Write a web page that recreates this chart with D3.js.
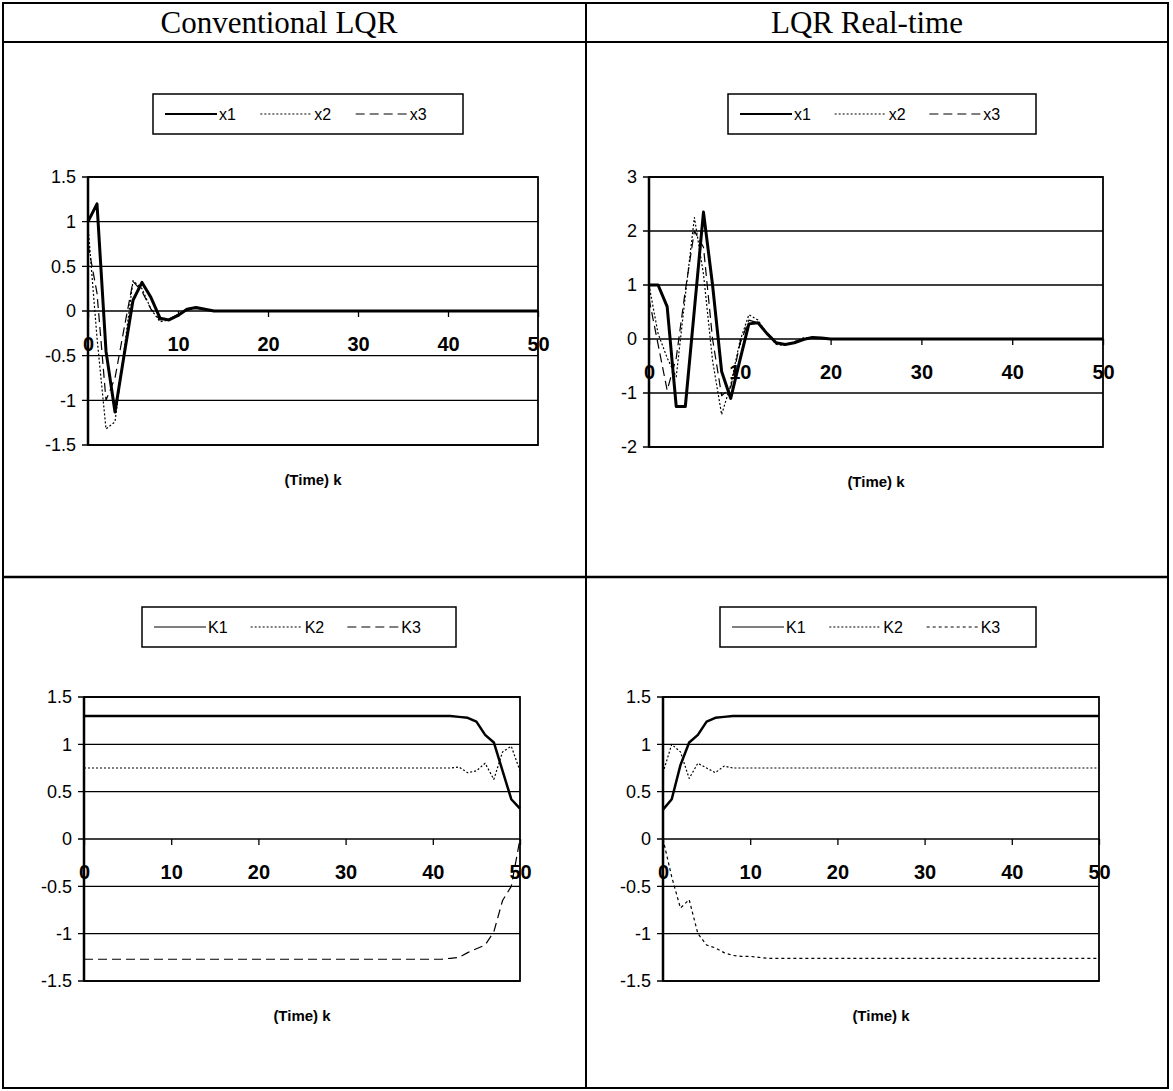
<!DOCTYPE html>
<html>
<head>
<meta charset="utf-8">
<script src="https://cdn.jsdelivr.net/npm/d3@7"></script>
<style>
  body { margin: 0; background: #fff; }
  text { font-family: "Liberation Sans", Arial, sans-serif; fill: #000; }
</style>
</head>
<body>
<svg id="page" width="1173" height="1091"></svg>
<script>
// time index k
var steps = [0,1,2,3,4,5,6,7,8,9,10,11,12,13,14,15,16,17,18,19,20,21,22,23,24,25,26,27,28,29,30,
             31,32,33,34,35,36,37,38,39,40,41,42,43,44,45,46,47,48,49,50];
var xTicks = [0, 10, 20, 30, 40, 50];

// Conventional LQR - states
var convX1 = [1.0,1.2,-0.45,-1.13,-0.5,0.12,0.32,0.15,-0.08,-0.1,-0.05,0.02,0.04,0.02,0,0,0,0,0,0,0,0,0,0,0,0,0,0,0,0,0,0,0,0,0,0,0,0,0,0,0,0,0,0,0,0,0,0,0,0,0];
var convX2 = [0.95,-0.3,-1.32,-1.24,-0.45,0.34,0.25,0.02,-0.12,-0.1,-0.04,0.01,0.03,0.02,0,0,0,0,0,0,0,0,0,0,0,0,0,0,0,0,0,0,0,0,0,0,0,0,0,0,0,0,0,0,0,0,0,0,0,0,0];
var convX3 = [0.75,0.2,-1.0,-0.75,-0.2,0.33,0.22,0.02,-0.1,-0.09,-0.04,0.01,0.03,0.02,0,0,0,0,0,0,0,0,0,0,0,0,0,0,0,0,0,0,0,0,0,0,0,0,0,0,0,0,0,0,0,0,0,0,0,0,0];

// LQR real-time - states
var rtX1 = [1.0,1.0,0.6,-1.25,-1.25,0.55,2.35,1.0,-0.6,-1.1,-0.4,0.28,0.3,0.1,-0.07,-0.1,-0.07,-0.01,0.03,0.02,0,0,0,0,0,0,0,0,0,0,0,0,0,0,0,0,0,0,0,0,0,0,0,0,0,0,0,0,0,0,0];
var rtX2 = [1.0,0.1,-0.35,-0.7,0.8,2.25,1.2,-0.4,-1.4,-0.85,-0.05,0.45,0.35,0.1,-0.1,-0.12,-0.05,0.02,0.03,0.01,0,0,0,0,0,0,0,0,0,0,0,0,0,0,0,0,0,0,0,0,0,0,0,0,0,0,0,0,0,0,0];
var rtX3 = [0.75,-0.1,-0.95,-0.35,0.9,2.0,1.7,0.0,-1.05,-0.9,-0.1,0.35,0.3,0.1,-0.08,-0.1,-0.06,0.01,0.03,0.01,0,0,0,0,0,0,0,0,0,0,0,0,0,0,0,0,0,0,0,0,0,0,0,0,0,0,0,0,0,0,0];

// Conventional LQR - gains
var convK1 = [1.3,1.3,1.3,1.3,1.3,1.3,1.3,1.3,1.3,1.3,1.3,1.3,1.3,1.3,1.3,1.3,1.3,1.3,1.3,1.3,1.3,1.3,1.3,1.3,1.3,1.3,1.3,1.3,1.3,1.3,1.3,1.3,1.3,1.3,1.3,1.3,1.3,1.3,1.3,1.3,1.3,1.3,1.3,1.29,1.28,1.24,1.1,1.02,0.72,0.42,0.32];
var convK2 = [0.75,0.75,0.75,0.75,0.75,0.75,0.75,0.75,0.75,0.75,0.75,0.75,0.75,0.75,0.75,0.75,0.75,0.75,0.75,0.75,0.75,0.75,0.75,0.75,0.75,0.75,0.75,0.75,0.75,0.75,0.75,0.75,0.75,0.75,0.75,0.75,0.75,0.75,0.75,0.75,0.75,0.75,0.75,0.76,0.7,0.72,0.8,0.63,0.92,0.98,0.72];
var convK3 = [-1.27,-1.27,-1.27,-1.27,-1.27,-1.27,-1.27,-1.27,-1.27,-1.27,-1.27,-1.27,-1.27,-1.27,-1.27,-1.27,-1.27,-1.27,-1.27,-1.27,-1.27,-1.27,-1.27,-1.27,-1.27,-1.27,-1.27,-1.27,-1.27,-1.27,-1.27,-1.27,-1.27,-1.27,-1.27,-1.27,-1.27,-1.27,-1.27,-1.27,-1.27,-1.27,-1.26,-1.25,-1.2,-1.16,-1.12,-0.98,-0.65,-0.5,0.0];

// LQR real-time - gains
var rtK1 = [0.31,0.42,0.78,1.02,1.1,1.24,1.28,1.29,1.3,1.3,1.3,1.3,1.3,1.3,1.3,1.3,1.3,1.3,1.3,1.3,1.3,1.3,1.3,1.3,1.3,1.3,1.3,1.3,1.3,1.3,1.3,1.3,1.3,1.3,1.3,1.3,1.3,1.3,1.3,1.3,1.3,1.3,1.3,1.3,1.3,1.3,1.3,1.3,1.3,1.3,1.3];
var rtK2 = [0.7,1.0,0.92,0.64,0.8,0.75,0.7,0.77,0.75,0.75,0.75,0.75,0.75,0.75,0.75,0.75,0.75,0.75,0.75,0.75,0.75,0.75,0.75,0.75,0.75,0.75,0.75,0.75,0.75,0.75,0.75,0.75,0.75,0.75,0.75,0.75,0.75,0.75,0.75,0.75,0.75,0.75,0.75,0.75,0.75,0.75,0.75,0.75,0.75,0.75,0.75];
var rtK3 = [0.0,-0.4,-0.73,-0.64,-1.0,-1.12,-1.15,-1.2,-1.23,-1.24,-1.24,-1.25,-1.26,-1.26,-1.26,-1.26,-1.26,-1.26,-1.26,-1.26,-1.26,-1.26,-1.26,-1.26,-1.26,-1.26,-1.26,-1.26,-1.26,-1.26,-1.26,-1.26,-1.26,-1.26,-1.26,-1.26,-1.26,-1.26,-1.26,-1.26,-1.26,-1.26,-1.26,-1.26,-1.26,-1.26,-1.26,-1.26,-1.26,-1.26,-1.26];

var stateTicks = [-1.5, -1, -0.5, 0, 0.5, 1, 1.5];
var rtStateTicks = [-2, -1, 0, 1, 2, 3];
var headers = ["Conventional LQR", "LQR Real-time"];

var solid = {dash: null, width: 3};
var dotted = {dash: "2,2", width: 1.2};
var dashed = {dash: "9,5", width: 1.2};

var svg = d3.select("#page");

/**
 * draws the table the charts sit in
 */
function drawTable() {
  var t = svg.append("g").attr("stroke", "#000").attr("fill", "none");
  t.append("rect").attr("x", 3).attr("y", 3).attr("width", 1165).attr("height", 1085).attr("stroke-width", 2);
  t.append("line").attr("x1", 3).attr("x2", 1168).attr("y1", 42).attr("y2", 42).attr("stroke-width", 2);
  t.append("line").attr("x1", 3).attr("x2", 1168).attr("y1", 577).attr("y2", 577).attr("stroke-width", 2.5);
  t.append("line").attr("x1", 586).attr("x2", 586).attr("y1", 3).attr("y2", 1088).attr("stroke-width", 2);

  svg.selectAll(".hdr").data(headers).enter().append("text")
    .attr("x", function(d, i) { return i == 0 ? 279 : 867; })
    .attr("y", 33)
    .attr("text-anchor", "middle")
    .style("font-family", '"Liberation Serif", "Times New Roman", serif')
    .style("font-size", "31px")
    .text(function(d) { return d; });
}

/**
 * one excel-style line chart
 * @param  {[type]} o  options: plot box, y domain/ticks, series, legend box
 */
function createLineChart(o) {
  var x = d3.scaleLinear().domain([0, 50]).range([o.left, o.right]);
  var y = d3.scaleLinear().domain([o.yTicks[0], o.yTicks[o.yTicks.length - 1]]).range([o.bottom, o.top]);
  var g = svg.append("g");

  // horizontal gridlines, with a short tick out to the left
  g.selectAll(".grid").data(o.yTicks).enter().append("line")
    .attr("x1", o.left - 6).attr("x2", o.right)
    .attr("y1", function(d) { return y(d); }).attr("y2", function(d) { return y(d); })
    .attr("stroke", "#000").attr("stroke-width", 1.3);

  // y labels
  var yAxis = d3.axisLeft(y).tickValues(o.yTicks).tickSize(0).tickPadding(12)
    .tickFormat(function(d) { return String(d); });
  var ya = g.append("g").attr("transform", "translate(" + o.left + ",0)").call(yAxis);
  ya.select(".domain").remove();
  ya.selectAll("text").style("font-size", "18px").style("font-family", '"Liberation Sans", Arial, sans-serif');

  // plot area frame
  g.append("rect").attr("x", o.left).attr("y", o.top)
    .attr("width", o.right - o.left).attr("height", o.bottom - o.top)
    .attr("fill", "none").attr("stroke", "#000").attr("stroke-width", 1.8);
  g.append("line").attr("x1", o.left).attr("x2", o.left).attr("y1", o.top).attr("y2", o.bottom)
    .attr("stroke", "#000").attr("stroke-width", 2.5);

  // x axis crosses at 0
  var xAxis = d3.axisBottom(x).tickValues(xTicks).tickSizeInner(6).tickSizeOuter(0).tickPadding(20)
    .tickFormat(d3.format("d"));
  var xa = g.append("g").attr("transform", "translate(0," + y(0) + ")").call(xAxis);
  xa.select(".domain").remove();
  xa.selectAll("line").attr("stroke-width", 1.3);
  xa.selectAll("text").style("font-size", "20px").style("font-weight", "bold")
    .style("font-family", '"Liberation Sans", Arial, sans-serif');

  // series
  var line = d3.line()
    .x(function(d, i) { return x(steps[i]); })
    .y(function(d) { return y(d); });
  o.series.forEach(function(s) {
    g.append("path").datum(s.values)
      .attr("d", line)
      .attr("fill", "none")
      .attr("stroke", "#000")
      .attr("stroke-width", s.style.width)
      .attr("stroke-linejoin", "round")
      .attr("stroke-dasharray", s.style.dash);
  });

  // x title
  g.append("text")
    .attr("x", (o.left + o.right) / 2).attr("y", o.bottom + 40)
    .attr("text-anchor", "middle")
    .style("font-size", "15px").style("font-weight", "bold")
    .text("(Time) k");

  // legend
  var lg = g.append("g").attr("transform", "translate(" + o.legend[0] + "," + o.legend[1] + ")");
  var lw = o.legend[2], lh = 40;
  lg.append("rect").attr("width", lw).attr("height", lh)
    .attr("fill", "#fff").attr("stroke", "#000").attr("stroke-width", 1.5);
  var itemW = (lw - 24) / 3;
  var items = lg.selectAll(".item").data(o.series).enter().append("g")
    .attr("transform", function(d, i) { return "translate(" + (12 + i * itemW) + "," + (lh / 2) + ")"; });
  items.append("line").attr("x1", 0).attr("x2", 52).attr("y1", 0).attr("y2", 0)
    .attr("stroke", "#000")
    .attr("stroke-width", function(d) { return d.style.width == 3 ? 2.2 : 1.2; })
    .attr("stroke-dasharray", function(d) { return d.style.dash; });
  items.append("text").attr("x", 54).attr("y", 6)
    .style("font-size", "16px")
    .text(function(d) { return d.name; });
}

drawTable();

createLineChart({
  left: 88, right: 538, top: 177, bottom: 445, yTicks: stateTicks,
  legend: [153, 94, 310],
  series: [{name: "x1", values: convX1, style: solid},
           {name: "x2", values: convX2, style: dotted},
           {name: "x3", values: convX3, style: dashed}]
});

createLineChart({
  left: 649, right: 1103, top: 177, bottom: 447, yTicks: rtStateTicks,
  legend: [728, 94, 308],
  series: [{name: "x1", values: rtX1, style: solid},
           {name: "x2", values: rtX2, style: dotted},
           {name: "x3", values: rtX3, style: dashed}]
});

createLineChart({
  left: 84, right: 520, top: 697, bottom: 981, yTicks: stateTicks,
  legend: [142, 607, 314],
  series: [{name: "K1", values: convK1, style: {dash: null, width: 2.5}},
           {name: "K2", values: convK2, style: dotted},
           {name: "K3", values: convK3, style: dashed}]
});

createLineChart({
  left: 663, right: 1099, top: 697, bottom: 981, yTicks: stateTicks,
  legend: [720, 607, 316],
  series: [{name: "K1", values: rtK1, style: {dash: null, width: 2.5}},
           {name: "K2", values: rtK2, style: dotted},
           {name: "K3", values: rtK3, style: {dash: "3,3", width: 1.2}}]
});
</script>
</body>
</html>
